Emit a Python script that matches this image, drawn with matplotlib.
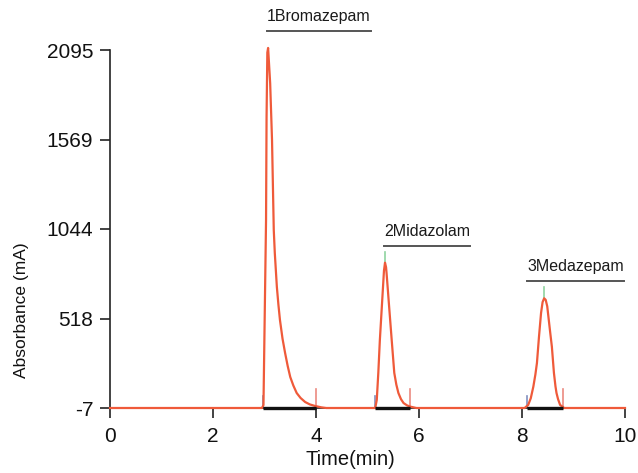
import numpy as np
import matplotlib
matplotlib.use("Agg")
import matplotlib.pyplot as plt

plt.rcParams['font.family'] = ['Liberation Sans', 'DejaVu Sans']
plt.rcParams['axes.unicode_minus'] = False

# Chromatogram trace (time in min, absorbance in mA)
time_min = [0.0, 2.95, 2.98, 3.03, 3.04, 3.055, 3.07, 3.11, 3.146, 3.18, 3.20,
            3.24, 3.27, 3.30, 3.35, 3.40, 3.45, 3.50, 3.56, 3.625, 3.70, 3.79,
            3.88, 3.98, 4.1, 4.2,
            5.15, 5.18, 5.21, 5.24, 5.29, 5.32, 5.34, 5.36, 5.37, 5.42, 5.47,
            5.52, 5.56, 5.60, 5.65, 5.70, 5.77, 5.83, 5.95,
            8.05, 8.12, 8.17, 8.22, 8.26, 8.29, 8.33, 8.37, 8.40, 8.43, 8.46,
            8.49, 8.52, 8.55, 8.58, 8.62, 8.65, 8.67, 8.70, 8.74, 8.82, 10.0]
absorbance = [-7, -7, 10, 1097, 1700, 2080, 2107, 1900, 1567, 1038, 903,
              704, 600, 510, 400, 316, 240, 175, 125, 81, 52, 28,
              14, 5, -3, -7,
              -7, 40, 200, 392, 647, 800, 846, 820, 786, 588, 392,
              199, 130, 81, 45, 22, 8, 1, -7,
              -7, 11, 50, 118, 190, 257, 412, 551, 615, 637, 628,
              590, 510, 430, 353, 199, 120, 81, 45, 11, -7, -7]

# Peak table
peak_names = ["1Bromazepam", "2Midazolam", "3Medazepam"]
peak_apex_time = [3.07, 5.34, 8.43]
peak_apex_height = [2107, 846, 637]
peak_start = [2.97, 5.15, 8.10]
peak_end = [4.00, 5.83, 8.80]

x_ticks = [0, 2, 4, 6, 8, 10]
y_ticks = [-7, 518, 1044, 1569, 2095]

# label placement (layout only)
label_x = [3.05, 5.32, 8.10]

trace_color = "#ef5a3a"
fig = plt.figure(figsize=(6.38, 4.73), dpi=100)
ax = fig.add_axes([110 / 638, 65 / 473, 515 / 638, 358 / 473])

base = y_ticks[0]
ax.plot(time_min, absorbance, color=trace_color, lw=1.6, zorder=3,
        clip_on=False)

for i in range(len(peak_names)):
    # integration baseline
    ax.plot([peak_start[i], peak_end[i]], [base, base], color="#111111",
            lw=2.4, zorder=4, solid_capstyle="butt", clip_on=False)
    # start / end markers
    ax.plot([peak_start[i], peak_start[i]], [base, base + 70], color="#8090c0",
            lw=1.2, zorder=2)
    ax.plot([peak_end[i], peak_end[i]], [base, base + 110], color="#eb8a80",
            lw=1.2, zorder=2)
    # apex tick
    ax.plot([peak_apex_time[i], peak_apex_time[i]],
            [peak_apex_height[i], peak_apex_height[i] + 65],
            color="#8fd3a0", lw=1.2, zorder=2)

ax.set_xlim(0, 10)
ax.set_ylim(y_ticks[0], y_ticks[-1])
ax.set_xticks(x_ticks)
ax.set_yticks(y_ticks)
ax.tick_params(axis="both", direction="out", length=7, width=1.2,
               labelsize=15, color="#222222", labelcolor="#111111")
ax.tick_params(axis="x", pad=7)
ax.tick_params(axis="y", pad=5)
for s in ["top", "right"]:
    ax.spines[s].set_visible(False)
for s in ["left", "bottom"]:
    ax.spines[s].set_linewidth(1.2)
    ax.spines[s].set_color("#222222")

ax.set_xlabel("Time(min)", fontsize=14.5, color="#111111")
ax.xaxis.set_label_coords(0.466, -0.118)
ax.set_ylabel("Absorbance (mA)", fontsize=12.5, color="#111111")
ax.yaxis.set_label_coords(-0.158, 0.274)

# peak labels with underline
fig.canvas.draw()
renderer = fig.canvas.get_renderer()
for i, name in enumerate(peak_names):
    uy = peak_apex_height[i] + 100
    t = ax.text(label_x[i], uy + 40, name, fontsize=11.5, color="#1a1a1a",
                ha="left", va="bottom", clip_on=False)
    bb = t.get_window_extent(renderer=renderer)
    x0, _ = ax.transData.inverted().transform((bb.x0, bb.y0))
    x1, _ = ax.transData.inverted().transform((bb.x1, bb.y0))
    ax.plot([x0, x1], [uy, uy], color="#555555", lw=1.4, clip_on=False)

fig.savefig("out.png", dpi=100)
